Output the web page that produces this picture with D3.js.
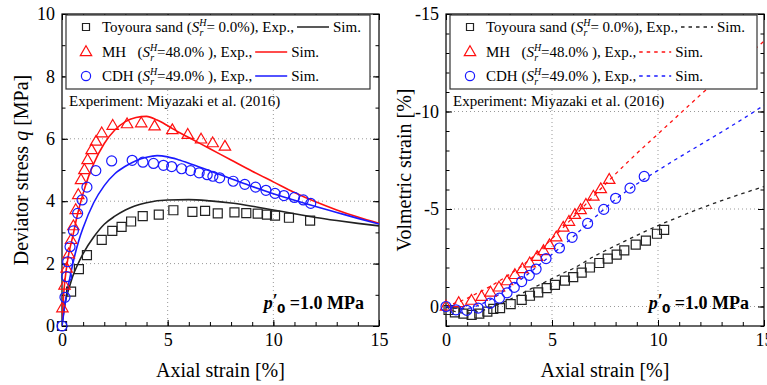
<!DOCTYPE html>
<html>
<head>
<meta charset="utf-8">
<script src="https://cdn.jsdelivr.net/npm/d3@7"></script>
<style>
body { margin: 0; background: #fff; }
svg { font-family: "Liberation Serif", "Times New Roman", serif; }
</style>
</head>
<body>
<svg id="graf" width="767" height="385"></svg>
<script>
// I. Datos
xTicks = [0, 5, 10, 15]
qTicks = [0, 2, 4, 6, 8, 10]
evTicks = [-15, -10, -5, 0]

// desviador q [MPa] vs deformación axial [%]
toyouraQExp = [[0,0],[0.43,1.10],[0.8,1.82],[1.18,2.27],[1.88,2.76],[2.38,3.05],[2.82,3.18],[3.27,3.35],[3.82,3.52],[4.58,3.57],[5.27,3.71],[6.17,3.66],[6.77,3.69],[7.37,3.61],[8.16,3.64],[8.72,3.62],[9.26,3.6],[9.7,3.57],[10.08,3.54],[10.74,3.47],[11.74,3.38]]
mhQExp = [[0.02,0.57],[0.12,1.3],[0.22,1.84],[0.32,2.3],[0.43,2.76],[0.54,3.2],[0.65,3.72],[0.77,4.2],[0.9,4.68],[1.06,5.0],[1.21,5.32],[1.4,5.64],[1.61,5.91],[1.88,6.18],[2.4,6.42],[3.08,6.47],[3.75,6.5],[4.38,6.4],[5.22,6.28],[5.95,6.13],[6.58,5.98],[7.13,5.86],[7.71,5.75]]
cdhQExp = [[0,0],[0.14,0.92],[0.22,1.58],[0.27,2.06],[0.38,2.54],[0.54,3.05],[0.74,3.61],[0.95,4.04],[1.18,4.45],[1.6,4.98],[2.35,5.29],[3.32,5.31],[3.83,5.25],[4.33,5.21],[4.8,5.15],[5.19,5.11],[5.66,5.04],[6.08,4.98],[6.49,4.91],[6.87,4.85],[7.14,4.8],[7.46,4.75],[8.1,4.64],[8.65,4.54],[9.16,4.45],[9.65,4.35],[10.08,4.25],[10.5,4.18],[11.0,4.12],[11.42,4.04],[11.77,3.93]]
toyouraQSim = [[0,0],[0.1,0.55],[0.2,0.9],[0.35,1.25],[0.5,1.58],[0.75,1.98],[1,2.32],[1.5,2.85],[2,3.26],[2.5,3.52],[3,3.72],[4,3.95],[5,4.04],[6,4.05],[7,4.01],[8,3.94],[9,3.84],[10,3.72],[11,3.6],[12,3.48],[13,3.38],[14,3.29],[15,3.21]]
mhQSim = [[0,0],[0.05,0.7],[0.1,1.2],[0.2,1.8],[0.3,2.25],[0.5,2.85],[0.75,3.62],[1,4.25],[1.25,4.78],[1.5,5.2],[2,5.85],[2.5,6.28],[3,6.55],[3.5,6.68],[4,6.72],[4.5,6.6],[5,6.42],[5.5,6.22],[6,6.04],[7,5.68],[8,5.32],[9,4.96],[10,4.62],[11,4.28],[12,3.98],[13,3.72],[14,3.49],[15,3.29]]
cdhQSim = [[0,0],[0.1,0.5],[0.2,0.95],[0.3,1.3],[0.45,1.8],[0.6,2.25],[0.8,2.75],[1,3.15],[1.5,3.95],[2,4.5],[2.5,4.88],[3,5.12],[3.5,5.3],[4,5.41],[4.5,5.46],[5,5.42],[5.5,5.33],[6,5.22],[7,4.97],[8,4.72],[9,4.47],[10,4.24],[11,4.03],[12,3.83],[13,3.64],[14,3.45],[15,3.27]]

// deformación volumétrica [%] vs deformación axial [%]
toyouraVExp = [[0.12,0.18],[0.42,0.3],[0.82,0.37],[1.21,0.43],[1.57,0.37],[1.95,0.26],[2.23,0.12],[2.55,0.08],[3.05,-0.12],[3.57,-0.34],[3.96,-0.55],[4.35,-0.72],[4.75,-0.94],[5.14,-1.11],[5.61,-1.33],[6.0,-1.51],[6.4,-1.74],[6.79,-2.0],[7.23,-2.23],[7.63,-2.46],[8.05,-2.66],[8.41,-2.88],[8.95,-3.17],[9.43,-3.38],[9.95,-3.73],[10.29,-3.93]]
mhVExp = [[0,0],[0.6,-0.18],[1.2,-0.3],[1.68,-0.5],[2.1,-0.72],[2.5,-0.98],[2.88,-1.3],[3.25,-1.62],[3.6,-1.92],[3.95,-2.22],[4.3,-2.55],[4.6,-2.85],[4.88,-3.15],[5.2,-3.55],[5.53,-4.05],[5.8,-4.35],[6.08,-4.7],[6.35,-4.95],[6.6,-5.22],[6.95,-5.64],[7.3,-6.02],[7.7,-6.5]]
cdhVExp = [[0,0],[0.47,0.17],[0.98,0.2],[1.52,0.08],[2.08,-0.17],[2.52,-0.43],[2.88,-0.7],[3.22,-0.98],[3.57,-1.28],[3.93,-1.6],[4.25,-1.92],[4.72,-2.46],[5.35,-3.0],[5.95,-3.55],[6.68,-4.26],[7.44,-4.98],[8.0,-5.55],[8.68,-6.07],[9.35,-6.67]]
toyouraVSim = [[0,0],[0.25,0.18],[0.5,0.28],[1,0.34],[1.5,0.28],[2,0.1],[2.5,-0.12],[3,-0.36],[3.5,-0.62],[4,-0.9],[4.5,-1.16],[5,-1.43],[5.5,-1.7],[6,-1.95],[7,-2.58],[8,-3.12],[9,-3.65],[10,-4.15],[11,-4.6],[12,-5.03],[13,-5.43],[14,-5.8],[15,-6.15]]
mhVSim = [[0,0],[0.5,-0.2],[1,-0.42],[1.5,-0.7],[2,-0.98],[2.5,-1.3],[3,-1.65],[3.5,-2.02],[4,-2.45],[4.5,-2.95],[5,-3.48],[5.5,-4.02],[6,-4.58],[7,-5.7],[8,-6.8],[9,-7.85],[10,-8.85],[11,-9.85],[12,-10.85],[13,-11.8],[14,-12.7],[15,-13.6]]
cdhVSim = [[0,0],[0.5,0.1],[1,0.1],[1.5,-0.05],[2,-0.3],[2.5,-0.62],[3,-0.98],[3.5,-1.36],[4,-1.78],[4.5,-2.22],[5,-2.68],[5.5,-3.12],[6,-3.58],[7,-4.55],[8,-5.5],[9,-6.28],[10,-6.98],[11,-7.65],[12,-8.3],[13,-8.95],[14,-9.62],[15,-10.32]]

legendNames = ['Toyoura sand (', 'MH   (', 'CDH (']
legendSr = ['= 0.0%), Exp.,', '=48.0% ), Exp.,', '=49.0% ), Exp.,']
colores = ['#222', '#ff1010', '#1a1aff']

// II. Configuración
svg = d3.select('#graf')
top_y = 14
bottom_y = 326

marcadores = {
  square: 'M-4.5,-4.5H4.5V4.5H-4.5Z',
  triangle: 'M0,-6.2L5.7,3.6H-5.7Z',
  circle: d3.symbol(d3.symbolCircle, Math.PI * 25)()
}
marcadoresLeyenda = {
  square: 'M-3.5,-3.5H3.5V3.5H-3.5Z',
  triangle: 'M0,-6.2L5.7,3.6H-5.7Z',
  circle: d3.symbol(d3.symbolCircle, Math.PI * 4.6 * 4.6)()
}

function panel(p) {
  x = d3.scaleLinear().domain([0, 15]).range([p.left, p.right])
  y = d3.scaleLinear().domain(p.yDomain).range([bottom_y, top_y])
  g = svg.append('g')

  // rejilla punteada
  g.selectAll('.gx').data([5, 10]).enter().append('line')
    .attr('x1', d => x(d)).attr('x2', d => x(d))
    .attr('y1', top_y).attr('y2', bottom_y)
    .attr('stroke', '#999').attr('stroke-width', 1).attr('stroke-dasharray', '1,3')
  g.selectAll('.gy').data(p.grid).enter().append('line')
    .attr('x1', p.left).attr('x2', p.right)
    .attr('y1', d => y(d)).attr('y2', d => y(d))
    .attr('stroke', '#999').attr('stroke-width', 1).attr('stroke-dasharray', '1,3')

  // ejes con marcas hacia adentro
  fmt = d => String(d)
  ejes = [
    [d3.axisBottom(x).tickValues(xTicks).tickSize(-6).tickPadding(7).tickFormat(fmt), `translate(0,${bottom_y})`],
    [d3.axisBottom(x).tickValues(d3.range(0, 16)).tickSize(-4).tickFormat(''), `translate(0,${bottom_y})`],
    [d3.axisTop(x).tickValues(xTicks).tickSize(-6).tickFormat(''), `translate(0,${top_y})`],
    [d3.axisTop(x).tickValues(d3.range(0, 16)).tickSize(-4).tickFormat(''), `translate(0,${top_y})`],
    [d3.axisLeft(y).tickValues(p.yTicks).tickSize(-6).tickPadding(7).tickFormat(fmt), `translate(${p.left},0)`],
    [d3.axisLeft(y).tickValues(p.yMinor).tickSize(-3.5).tickFormat(''), `translate(${p.left},0)`],
    [d3.axisRight(y).tickValues(p.yTicks).tickSize(-6).tickFormat(''), `translate(${p.right},0)`],
    [d3.axisRight(y).tickValues(p.yMinor).tickSize(-3.5).tickFormat(''), `translate(${p.right},0)`]
  ]
  ejes.forEach(e => {
    a = g.append('g').attr('transform', e[1]).call(e[0])
    a.select('.domain').remove()
    a.selectAll('line').attr('stroke', '#000')
    a.selectAll('text').attr('font-family', '"Liberation Serif", serif')
      .attr('font-size', 18).attr('fill', '#000')
  })

  g.append('rect')
    .attr('x', p.left).attr('y', top_y)
    .attr('width', p.right - p.left).attr('height', bottom_y - top_y)
    .attr('fill', 'none').attr('stroke', '#000').attr('stroke-width', 1.2)

  // curvas simuladas
  clipId = 'clip' + p.left
  svg.append('clipPath').attr('id', clipId).append('rect')
    .attr('x', p.left).attr('y', top_y)
    .attr('width', p.right - p.left).attr('height', bottom_y - top_y)
  linea = d3.line().x(d => x(d[0])).y(d => y(d[1])).curve(d3.curveMonotoneX)
  p.sims.forEach((s, i) => {
    g.append('path').attr('d', linea(s))
      .attr('clip-path', `url(#${clipId})`)
      .attr('fill', 'none').attr('stroke', colores[i])
      .attr('stroke-width', p.dash ? 1.3 : 1.6)
      .attr('stroke-dasharray', p.dash ? '3.5,4' : null)
  })

  // puntos experimentales
  tipos = ['square', 'triangle', 'circle']
  p.exps.forEach((s, i) => {
    g.selectAll('.m' + i).data(s).enter().append('path')
      .attr('d', marcadores[tipos[i]])
      .attr('transform', d => `translate(${x(d[0])},${y(d[1])})`)
      .attr('fill', 'none').attr('stroke', colores[i]).attr('stroke-width', 1.2)
  })

  // leyenda
  lx = p.left + 4
  g.append('rect').attr('x', lx).attr('y', top_y + 1)
    .attr('width', p.legendW).attr('height', 74)
    .attr('fill', '#fff').attr('stroke', '#333').attr('stroke-width', 1.2)
  filas = [27, 52, 76]
  filas.forEach((fy, i) => {
    g.append('path').attr('d', marcadoresLeyenda[tipos[i]])
      .attr('transform', `translate(${lx + 20},${fy})`)
      .attr('fill', 'none').attr('stroke', colores[i]).attr('stroke-width', 1.2)
    t = g.append('text').attr('x', lx + 36).attr('y', fy + 5)
      .attr('font-size', 15).style('white-space', 'pre')
    t.append('tspan').text(legendNames[i])
    t.append('tspan').attr('font-style', 'italic').text('S')
    t.append('tspan').attr('font-style', 'italic').attr('font-size', 10).attr('dy', -6).text('H')
    t.append('tspan').attr('font-style', 'italic').attr('font-size', 10).attr('dx', -7).attr('dy', 10).text('r')
    t.append('tspan').attr('dx', 3).attr('dy', -4).text(legendSr[i])
    bb = t.node().getBBox()
    fin = bb.x + bb.width
    g.append('line').attr('x1', fin + 3).attr('x2', fin + 35)
      .attr('y1', fy).attr('y2', fy)
      .attr('stroke', colores[i]).attr('stroke-width', p.dash ? 1.3 : 1.6)
      .attr('stroke-dasharray', p.dash ? '3.5,4' : null)
    g.append('text').attr('x', fin + 39).attr('y', fy + 5).attr('font-size', 15).text('Sim.')
  })

  g.append('text').attr('x', p.left + 7).attr('y', 106).attr('font-size', 15)
    .text('Experiment: Miyazaki et al. (2016)')

  // p'0
  pt = g.append('text').attr('x', p.right - 15).attr('y', 309)
    .attr('text-anchor', 'end').attr('font-size', 18).attr('font-weight', 'bold')
  pt.append('tspan').attr('font-style', 'italic').text('p')
  pt.append('tspan').attr('dy', -2).text('′')
  pt.append('tspan').attr('font-family', '"DejaVu Sans", sans-serif').attr('font-size', 12)
    .attr('dx', -1).attr('dy', 6).text('0')
  pt.append('tspan').attr('dy', -4).text(' =1.0 MPa')

  // títulos
  g.append('text').attr('x', (p.left + p.right) / 2).attr('y', 377)
    .attr('text-anchor', 'middle').attr('font-size', 20).text('Axial strain [%]')
  yt = g.append('text')
    .attr('transform', `translate(${p.ytx},170) rotate(-90)`)
    .attr('text-anchor', 'middle').attr('font-size', 20)
  p.ytitle.forEach(part => {
    yt.append('tspan').attr('font-style', part[1] ? 'italic' : null).text(part[0])
  })
}

// III. Despliegue
panel({
  left: 62, right: 379, yDomain: [0, 10],
  yTicks: qTicks, yMinor: d3.range(0, 11), grid: [2, 4, 6, 8],
  sims: [toyouraQSim, mhQSim, cdhQSim],
  exps: [toyouraQExp, mhQExp, cdhQExp],
  dash: false, legendW: 304, ytx: 28,
  ytitle: [['Deviator stress '], ['q', true], [' [MPa]']]
})
panel({
  left: 446, right: 764, yDomain: [1, -15],
  yTicks: evTicks, yMinor: d3.range(-15, 2), grid: [-10, -5, 0],
  sims: [toyouraVSim, mhVSim, cdhVSim],
  exps: [toyouraVExp, mhVExp, cdhVExp],
  dash: true, legendW: 307, ytx: 411,
  ytitle: [['Volmetric strain [%]']]
})
</script>
</body>
</html>
